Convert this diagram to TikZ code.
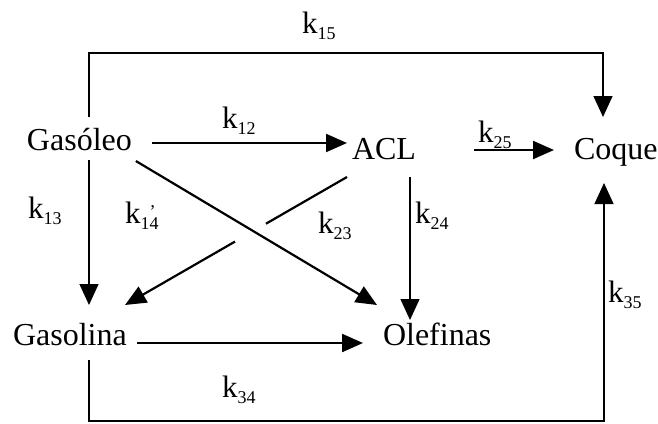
\documentclass[tikz,border=0pt]{standalone}
\usepackage{fontspec}
\setmainfont{Liberation Serif}
\usetikzlibrary{arrows.meta,calc}
\newcommand\ksub[1]{k\raisebox{-6pt}{\fontsize{18}{18}\selectfont #1}}
\newcommand\kprimesub{k\raisebox{-6pt}{\fontsize{18}{18}\selectfont 1\rlap{\raisebox{12pt}{'}}4}}
\begin{document}
\begin{tikzpicture}[x=1pt,y=-1pt,
  txt/.style={anchor=base west,inner sep=0pt,outer sep=0pt,font=\fontsize{32}{38}\selectfont},
  lab/.style={anchor=base west,inner sep=0pt,outer sep=0pt,font=\fontsize{31}{36}\selectfont},
  bold/.style={line width=2.2pt,-{Triangle[length=21pt,width=18pt]}},
  thin/.style={line width=1.4pt},
  thinarr/.style={line width=1.4pt,-{Triangle[length=21pt,width=19pt]}}]
\useasboundingbox (0,0) rectangle (658,423);
% species
\node[txt] (gas) at (27,150) {Gasóleo};
\node[txt] (acl) at (352,159) {ACL};
\node[txt] (coq) at (574,159) {Coque};
\node[txt] (gsl) at (13,345) {Gasolina};
\node[txt] (ole) at (383,345) {Olefinas};
% rate constants
\node[lab] (k15) at (302,33) {\ksub{15}};
\node[lab] (k12) at (222,128) {\ksub{12}};
\node[lab] (k25) at (478,142) {\ksub{25}};
\node[lab] (k13) at (28,218) {\ksub{13}};
\node[lab] (k14) at (125,223) {\kprimesub};
\node[lab] (k23) at (318,233) {\ksub{23}};
\node[lab] (k24) at (415,223) {\ksub{24}};
\node[lab] (k35) at (608,302) {\ksub{35}};
\node[lab] (k34) at (222,397) {\ksub{34}};
% k15: Gasoleo -> Coque over the top
\draw[thinarr] ($(gas.base west)+(62,-33)$) |- (603,53) -- ($(coq.base west)+(29,-42)$);
% k12
\draw[bold] ($(gas.base east)+(20,-7)$) -- ($(acl.base west)+(-5,-16)$);
% k25
\draw[bold] ($(acl.base east)+(58,-9)$) -- ($(coq.base west)+(-20,-9)$);
% k13
\draw[thinarr] ($(gas.base west)+(62,10)$) -- ($(gsl.base west)+(76,-40)$);
% k23 diagonal Gasoleo -> Olefinas
\draw[bold] ($(gas.base east)+(4,11)$) -- ($(ole.base west)+(-6,-40)$);
% k14' diagonal ACL -> Gasolina (broken at crossing)
\coordinate (d1) at ($(acl.base west)+(-5,18)$);
\coordinate (d2) at ($(gsl.base west)+(112,-40)$);
\draw[line width=2.2pt] (d1) -- ($(d1)!0.365!(d2)$);
\draw[bold] ($(d1)!0.5045!(d2)$) -- (d2);
% k24
\draw[thinarr] ($(acl.base west)+(58,18)$) -- ($(ole.base west)+(27,-25)$);
% k34
\draw[bold] ($(gsl.base east)+(10,-2)$) -- ($(ole.base west)+(-20,-2)$);
% k35: Gasolina -> Coque round the bottom
\draw[thinarr] ($(gsl.base west)+(76,15)$) |- (604,421) -- ($(coq.base west)+(30,24)$);
\end{tikzpicture}
\end{document}
